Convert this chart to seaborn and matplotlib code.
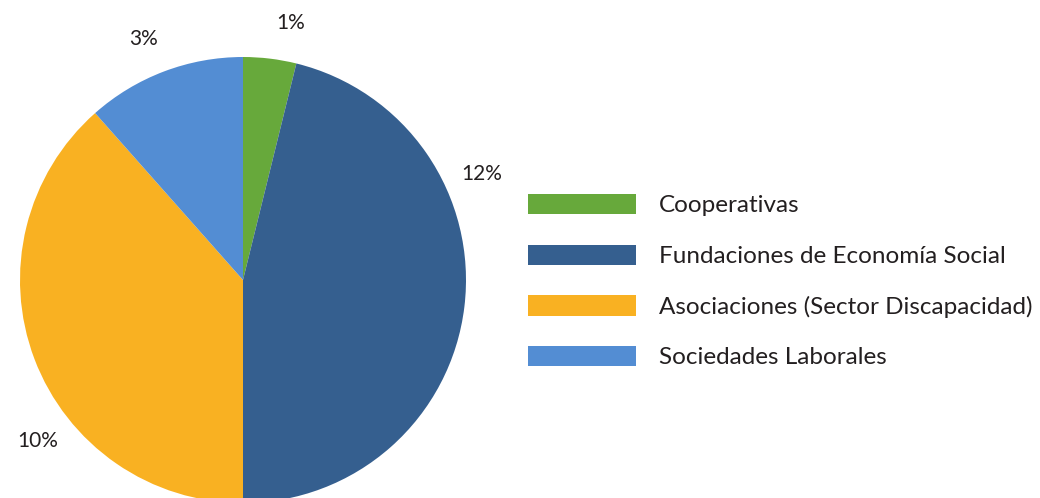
import matplotlib
matplotlib.use("Agg")
import numpy as np
import matplotlib.pyplot as plt
import seaborn as sns

sns.set_theme(style="white")
plt.rcParams['font.family'] = ['Lato', 'DejaVu Sans']

categories = ["Cooperativas", "Fundaciones de Economía Social",
              "Asociaciones (Sector Discapacidad)", "Sociedades Laborales"]
values = [1, 12, 10, 3]
labels = ["1%", "12%", "10%", "3%"]
colors = ["#67a93b", "#355f8f", "#f9b122", "#538dd3"]

text_color = "#231f20"

fig = plt.figure(figsize=(10.40, 4.98), dpi=100)
ax = fig.add_axes([20 / 1040, -5 / 498, 446 / 1040, 446 / 498])

wedges, texts = ax.pie(values, colors=colors, startangle=90, counterclock=False,
                       radius=1.0, labels=labels, labeldistance=1.17,
                       wedgeprops=dict(linewidth=0),
                       textprops=dict(fontsize=15, color=text_color))

# label angles as placed in the original (degrees, counter-clockwise from +x)
label_angles = [79.5, 24, 218, 112.5]
for t, a in zip(texts, label_angles):
    r = 1.17
    t.set_position((r * np.cos(np.radians(a)), r * np.sin(np.radians(a))))
    t.set_ha("center")
    t.set_va("center")

ax.set_xlim(-1, 1)
ax.set_ylim(-1, 1)
ax.set_aspect("equal")
ax.axis("off")

leg = fig.legend(wedges, categories, loc="upper left",
                 bbox_to_anchor=(528 / 1040, 1 - 194 / 498),
                 frameon=False, fontsize=17.5, handlelength=4.44, handleheight=0.9,
                 handletextpad=0.95, labelspacing=1.16, borderpad=0,
                 borderaxespad=0)
for t in leg.get_texts():
    t.set_color(text_color)

fig.savefig("out.png", dpi=100)
